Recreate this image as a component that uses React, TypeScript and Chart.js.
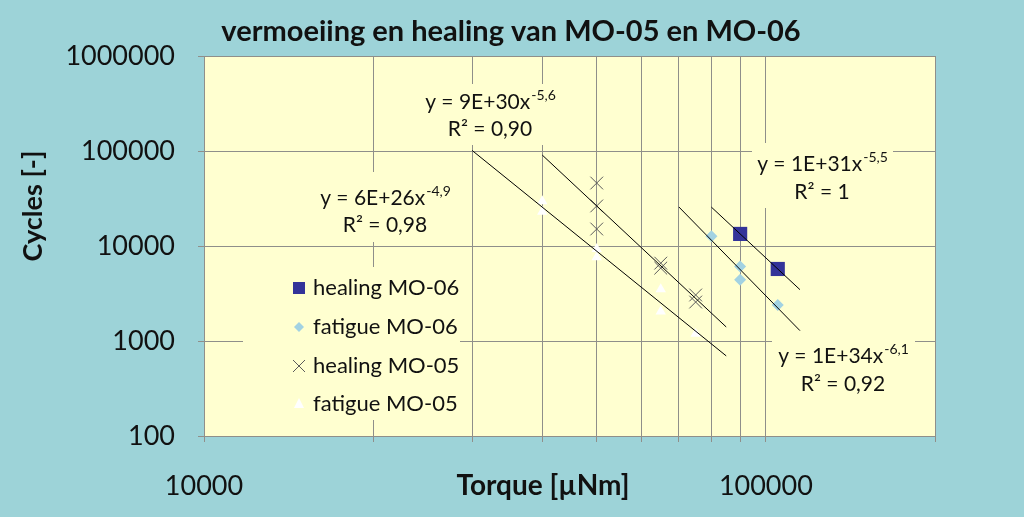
import React, { useEffect, useRef } from 'react';
import { Chart, registerables } from 'chart.js';

Chart.register(...registerables);

// ---- data ----
const healingMO06Torque = [90000, 105000];
const healingMO06Cycles = [13400, 5730];

const fatigueMO06Torque = [80000, 90000, 90000, 105000];
const fatigueMO06Cycles = [12700, 6100, 4400, 2400];

const healingMO05Torque = [50000, 50000, 50000, 65000, 65000, 75000, 75000];
const healingMO05Cycles = [46000, 26400, 15100, 6600, 5850, 3050, 2570];

const fatigueMO05Torque = [40000, 40000, 50000, 50000, 65000, 65000, 75000];
const fatigueMO05Cycles = [29500, 23000, 9300, 7600, 3500, 2050, 1190];

const xTickValues = [10000, 20000, 30000, 40000, 50000, 60000, 70000, 80000, 90000, 100000, 200000];
const xTickLabels = ['10000', '', '', '', '', '', '', '', '', '100000', ''];
const yTickValues = [100, 1000, 10000, 100000, 1000000];
const yTickLabels = ['100', '1000', '10000', '100000', '1000000'];

const seriesNames = ['healing MO-06', 'fatigue MO-06', 'healing MO-05', 'fatigue MO-05'];
const equationMain = ['y = 1E+31x', 'y = 1E+34x', 'y = 9E+30x', 'y = 6E+26x'];
const equationExp = ['-5,5', '-6,1', '-5,6', '-4,9'];
const equationR2 = ['R² = 1', 'R² = 0,92', 'R² = 0,90', 'R² = 0,98'];

const titleText = 'vermoeiing en healing van MO-05 en MO-06';
const xTitle = 'Torque [µNm]';
const yTitle = 'Cycles [-]';

// ---- style ----
const FONT = 'Lato, "Open Sans", sans-serif';
const TEAL = '#9dd3d8';
const PLOT_BG = '#ffffd0';
const GRID = '#8f8f8a';
const TEXT = '#111111';
const NAVY = '#333399';
const LIGHTBLUE = '#a2d2e2';
const XGRAY = '#5a5a5a';
const FORECAST = 10000;

function powerFit(xs: number[], ys: number[]) {
  const lx = xs.map((v) => Math.log10(v));
  const ly = ys.map((v) => Math.log10(v));
  const n = xs.length;
  const mx = lx.reduce((s, v) => s + v, 0) / n;
  const my = ly.reduce((s, v) => s + v, 0) / n;
  let sxy = 0;
  let sxx = 0;
  for (let i = 0; i < n; i++) {
    sxy += (lx[i] - mx) * (ly[i] - my);
    sxx += (lx[i] - mx) * (lx[i] - mx);
  }
  const b = sxy / sxx;
  const la = my - b * mx;
  const f = (x: number) => Math.pow(10, la + b * Math.log10(x));
  const x0 = Math.min(...xs) - FORECAST;
  const x1 = Math.max(...xs) + FORECAST;
  return [
    { x: x0, y: f(x0) },
    { x: x1, y: f(x1) },
  ];
}

function pts(xs: number[], ys: number[]) {
  return xs.map((x, i) => ({ x, y: ys[i] }));
}

function drawMarker(ctx: CanvasRenderingContext2D, kind: number, x: number, y: number) {
  ctx.save();
  if (kind === 0) {
    ctx.fillStyle = NAVY;
    ctx.fillRect(x - 6, y - 6, 12, 12);
  } else if (kind === 1) {
    ctx.fillStyle = LIGHTBLUE;
    ctx.beginPath();
    ctx.moveTo(x, y - 5);
    ctx.lineTo(x + 5, y);
    ctx.lineTo(x, y + 5);
    ctx.lineTo(x - 5, y);
    ctx.closePath();
    ctx.fill();
  } else if (kind === 2) {
    ctx.strokeStyle = XGRAY;
    ctx.lineWidth = 1;
    ctx.beginPath();
    ctx.moveTo(x - 6, y - 6);
    ctx.lineTo(x + 6, y + 6);
    ctx.moveTo(x + 6, y - 6);
    ctx.lineTo(x - 6, y + 6);
    ctx.stroke();
  } else {
    ctx.fillStyle = '#ffffff';
    ctx.beginPath();
    ctx.moveTo(x, y - 6);
    ctx.lineTo(x + 5, y + 4);
    ctx.lineTo(x - 5, y + 4);
    ctx.closePath();
    ctx.fill();
  }
  ctx.restore();
}

// boxes: [left, top, right, bottom] in canvas px, centre x of text, line1 y, line2 y
const labelBoxes = [
  { box: [752, 143, 893, 208], cx: 822, y1: 163, y2: 191 },
  { box: [772, 328, 915, 404], cx: 843, y1: 355, y2: 383 },
  { box: [405, 84, 575, 145], cx: 490, y1: 101, y2: 128 },
  { box: [318, 172, 452, 242], cx: 385, y1: 197, y2: 224 },
];
const legendBox = [243, 267, 460, 420];
const legendRows = [288, 327, 366, 404];

const bgPlugin = {
  id: 'bgPlugin',
  beforeDraw(chart: any) {
    const { ctx, chartArea: a, width, height } = chart;
    ctx.save();
    ctx.fillStyle = TEAL;
    ctx.fillRect(0, 0, width, height);
    ctx.fillStyle = PLOT_BG;
    ctx.fillRect(a.left, a.top, a.right - a.left, a.bottom - a.top);
    ctx.restore();
  },
};

const overlayPlugin = {
  id: 'overlayPlugin',
  beforeDatasetsDraw(chart: any) {
    const { ctx } = chart;
    ctx.save();
    // equation labels
    labelBoxes.forEach((lb, i) => {
      const [l, t, r, b] = lb.box;
      ctx.fillStyle = PLOT_BG;
      ctx.fillRect(l, t, r - l, b - t);
      ctx.fillStyle = TEXT;
      ctx.textBaseline = 'alphabetic';
      const mainFont = `21px ${FONT}`;
      const supFont = `14px ${FONT}`;
      ctx.font = mainFont;
      const w1 = ctx.measureText(equationMain[i]).width;
      ctx.font = supFont;
      const w2 = ctx.measureText(equationExp[i]).width;
      const sx = lb.cx - (w1 + w2) / 2;
      ctx.font = mainFont;
      ctx.textAlign = 'left';
      ctx.fillText(equationMain[i], sx, lb.y1 + 8);
      ctx.font = supFont;
      ctx.fillText(equationExp[i], sx + w1 + 1, lb.y1 - 1);
      ctx.font = mainFont;
      ctx.textAlign = 'center';
      ctx.fillText(equationR2[i], lb.cx, lb.y2 + 8);
    });
    // legend
    const [l, t, r, b] = legendBox;
    ctx.fillStyle = PLOT_BG;
    ctx.fillRect(l, t, r - l, b - t);
    ctx.font = `22px ${FONT}`;
    ctx.textAlign = 'left';
    ctx.textBaseline = 'middle';
    legendRows.forEach((y, i) => {
      drawMarker(ctx, i, 299, y);
      ctx.fillStyle = TEXT;
      ctx.fillText(seriesNames[i], 313, y);
    });
    ctx.restore();
  },
  afterDraw(chart: any) {
    const { ctx } = chart;
    ctx.save();
    ctx.fillStyle = TEXT;
    ctx.textAlign = 'center';
    ctx.textBaseline = 'middle';
    ctx.font = `bold 29px ${FONT}`;
    ctx.fillText(titleText, 511, 32);
    ctx.font = `bold 28px ${FONT}`;
    ctx.fillText(xTitle, 543, 486);
    ctx.translate(33, 206);
    ctx.rotate(-Math.PI / 2);
    ctx.font = `bold 27px ${FONT}`;
    ctx.fillText(yTitle, 0, 0);
    ctx.restore();
  },
};

export default function App() {
  const ref = useRef<HTMLCanvasElement | null>(null);

  useEffect(() => {
    document.body.style.margin = '0';
    const canvas = ref.current;
    if (!canvas) return;

    const pointBase = { showLine: false, order: 1 };
    const trendBase = {
      showLine: true,
      pointRadius: 0,
      borderColor: '#000000',
      borderWidth: 1,
      fill: false,
      order: 0,
    };

    const chart = new Chart(canvas, {
      type: 'scatter',
      data: {
        datasets: [
          {
            ...trendBase,
            label: 'trend healing MO-06',
            data: powerFit(healingMO06Torque, healingMO06Cycles),
          },
          {
            ...trendBase,
            label: 'trend fatigue MO-06',
            data: powerFit(fatigueMO06Torque, fatigueMO06Cycles),
          },
          {
            ...trendBase,
            label: 'trend healing MO-05',
            data: powerFit(healingMO05Torque, healingMO05Cycles),
          },
          {
            ...trendBase,
            label: 'trend fatigue MO-05',
            data: powerFit(fatigueMO05Torque, fatigueMO05Cycles),
          },
          {
            ...pointBase,
            label: seriesNames[0],
            data: pts(healingMO06Torque, healingMO06Cycles),
            pointStyle: 'rect',
            pointRadius: 10,
            backgroundColor: NAVY,
            borderColor: NAVY,
            borderWidth: 0,
          },
          {
            ...pointBase,
            label: seriesNames[1],
            data: pts(fatigueMO06Torque, fatigueMO06Cycles),
            pointStyle: 'rectRot',
            pointRadius: 6,
            backgroundColor: LIGHTBLUE,
            borderColor: LIGHTBLUE,
            borderWidth: 0,
          },
          {
            ...pointBase,
            label: seriesNames[2],
            data: pts(healingMO05Torque, healingMO05Cycles),
            pointStyle: 'crossRot',
            pointRadius: 9,
            backgroundColor: XGRAY,
            borderColor: XGRAY,
            borderWidth: 1,
          },
          {
            ...pointBase,
            label: seriesNames[3],
            data: pts(fatigueMO05Torque, fatigueMO05Cycles),
            pointStyle: 'triangle',
            pointRadius: 6,
            backgroundColor: '#ffffff',
            borderColor: '#ffffff',
            borderWidth: 0,
          },
        ],
      },
      options: {
        animation: false,
        responsive: true,
        maintainAspectRatio: false,
        events: [],
        layout: { padding: { left: 0, right: 89, top: 56, bottom: 0 } },
        plugins: {
          legend: { display: false },
          tooltip: { enabled: false },
          title: { display: false },
        },
        scales: {
          x: {
            type: 'logarithmic',
            position: 'bottom',
            min: 10000,
            max: 200000,
            afterBuildTicks: (scale: any) => {
              scale.ticks = xTickValues.map((v) => ({ value: v }));
            },
            afterFit: (scale: any) => {
              scale.height = 81;
            },
            ticks: {
              autoSkip: false,
              maxRotation: 0,
              minRotation: 0,
              padding: 28,
              color: TEXT,
              font: { family: FONT, size: 27 },
              callback: (value: any, index: number) => xTickLabels[index] ?? '',
            },
            grid: {
              color: GRID,
              lineWidth: 1,
              tickLength: 6,
              tickColor: GRID,
            },
            border: { color: GRID, width: 1 },
          },
          y: {
            type: 'logarithmic',
            position: 'left',
            min: 100,
            max: 1000000,
            afterBuildTicks: (scale: any) => {
              scale.ticks = yTickValues.map((v) => ({ value: v }));
            },
            afterFit: (scale: any) => {
              scale.width = 204;
            },
            ticks: {
              autoSkip: false,
              padding: 23,
              color: TEXT,
              font: { family: FONT, size: 27 },
              callback: (value: any, index: number) => yTickLabels[index] ?? '',
            },
            grid: {
              color: GRID,
              lineWidth: 1,
              tickLength: 6,
              tickColor: GRID,
            },
            border: { color: GRID, width: 1 },
          },
        },
      },
      plugins: [bgPlugin, overlayPlugin],
    } as any);

    return () => {
      chart.destroy();
    };
  }, []);

  return (
    <div
      style={{
        position: 'absolute',
        left: 0,
        top: 0,
        width: 1024,
        height: 517,
        background: TEAL,
      }}
    >
      <canvas ref={ref} />
    </div>
  );
}
